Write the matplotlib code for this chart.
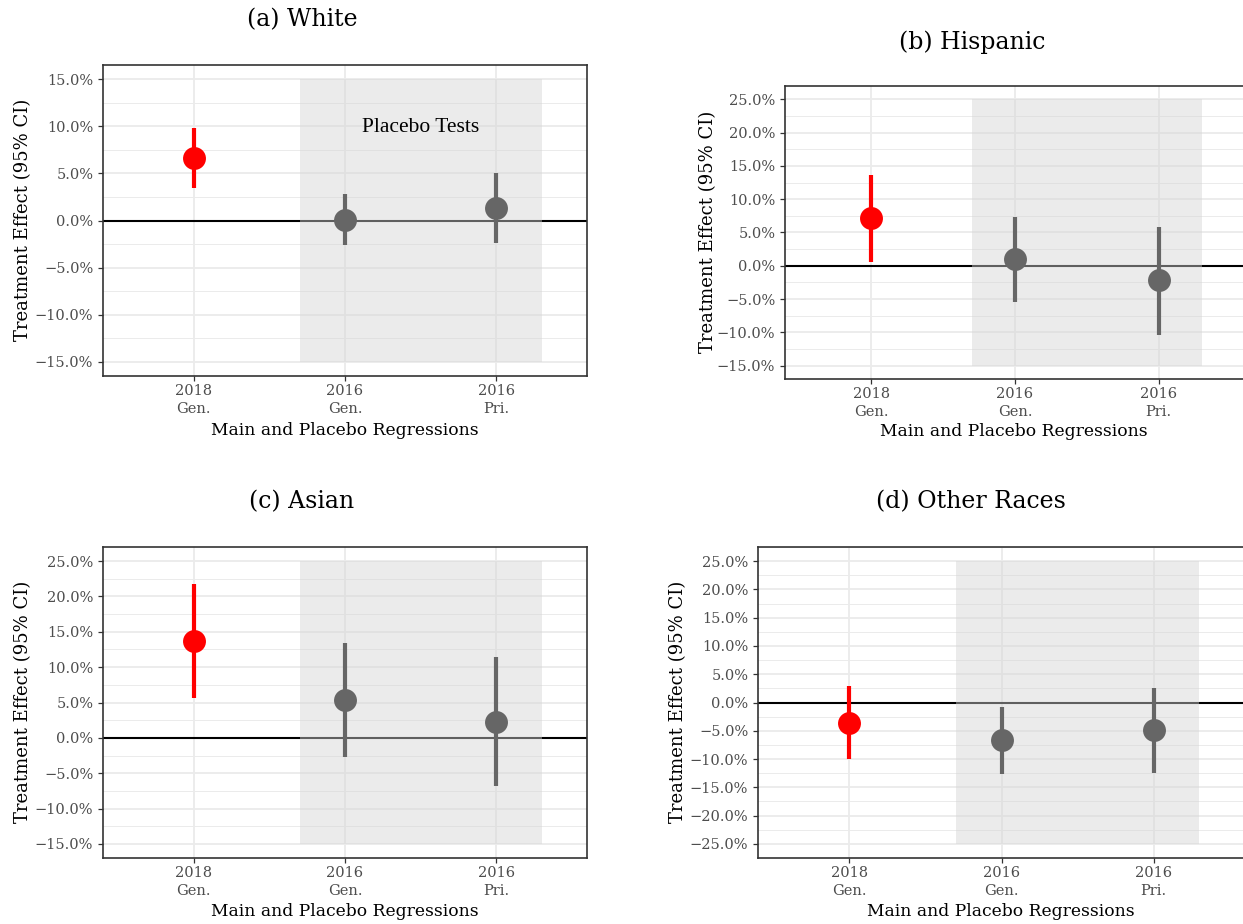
import matplotlib
matplotlib.use("Agg")
import matplotlib.pyplot as plt
import matplotlib.ticker as mticker
from matplotlib.patches import Rectangle

W, H = 1243, 924
fig = plt.figure(figsize=(W / 100, H / 100), dpi=100)

categories = ["2018\nGen.", "2016\nGen.", "2016\nPri."]
point_colors = ["#FF0000", "#666666", "#666666"]

# Estimates and 95% CI bounds (fractions)
white_est = [0.066, 0.001, 0.013]
white_lo = [0.035, -0.026, -0.024]
white_hi = [0.098, 0.028, 0.050]

hisp_est = [0.072, 0.010, -0.022]
hisp_lo = [0.005, -0.055, -0.104]
hisp_hi = [0.137, 0.074, 0.059]

asian_est = [0.137, 0.054, 0.023]
asian_lo = [0.057, -0.027, -0.068]
asian_hi = [0.217, 0.134, 0.114]

other_est = [-0.036, -0.067, -0.049]
other_lo = [-0.100, -0.127, -0.124]
other_hi = [0.029, -0.008, 0.026]

titles = ["(a) White", "(b) Hispanic", "(c) Asian", "(d) Other Races"]
y_ranges = [(-0.15, 0.15), (-0.15, 0.25), (-0.15, 0.25), (-0.25, 0.25)]

SERIF_T = ["Liberation Serif", "DejaVu Serif"]
WIDE = ["DejaVu Serif"]

# axes pixel boxes: left, right, top, bottom
boxes = [
    (103, 587, 65, 376),
    (785, 1245, 86, 379),
    (103, 587, 547, 858),
    (758, 1245, 547, 858),
]
title_pos = [(302, 20), (972, 42), (302, 502), (971, 502)]
ylabel_pos = [(23, 220), (708, 232), (23, 702), (678, 702)]
xlabel_pos = [(345, 430), (1014, 431), (345, 911), (1001, 911)]

data = [
    (white_est, white_lo, white_hi),
    (hisp_est, hisp_lo, hisp_hi),
    (asian_est, asian_lo, asian_hi),
    (other_est, other_lo, other_hi),
]


def fmt(v, pos=None):
    s = f"{abs(v) * 100:.1f}%"
    return ("\u2212" + s) if v < -1e-9 else s


for i in range(4):
    l, r, t, b = boxes[i]
    ax = fig.add_axes([l / W, 1 - b / H, (r - l) / W, (b - t) / H])
    est, lo, hi = data[i]
    ymin, ymax = y_ranges[i]
    pad = (ymax - ymin) * 0.05
    xs = [1, 2, 3]

    ax.set_xlim(0.4, 3.6)
    ax.set_ylim(ymin - pad, ymax + pad)

    ax.yaxis.set_major_locator(mticker.MultipleLocator(0.05))
    ax.yaxis.set_minor_locator(mticker.MultipleLocator(0.025))
    ax.yaxis.set_major_formatter(mticker.FuncFormatter(fmt))
    ax.set_xticks(xs)
    ax.set_xticklabels(categories)

    ax.grid(True, which="major", axis="both", color="#EBEBEB", lw=1.3, zorder=0)
    ax.grid(True, which="minor", axis="y", color="#EBEBEB", lw=0.7, zorder=0)
    ax.set_axisbelow(True)

    ax.axhline(0, color="black", lw=1.5, zorder=1)
    ax.add_patch(Rectangle((1.7, ymin), 1.6, ymax - ymin, facecolor="#D4D4D4",
                           alpha=0.45, edgecolor="none", zorder=2))

    for x, e, lw_, hw_, c in zip(xs, est, lo, hi, point_colors):
        ax.vlines(x, lw_, hw_, color=c, lw=3.0, zorder=3)
        ax.plot(x, e, "o", color=c, ms=16.5, mec="none", zorder=4)

    if i == 0:
        ax.text(2.5, 0.099, "Placebo Tests", ha="center", va="center",
                fontsize=15.5, family=SERIF_T, color="black", zorder=5)

    for sp in ax.spines.values():
        sp.set_color("#333333")
        sp.set_linewidth(1.2)

    ax.tick_params(axis="both", which="major", length=3.5, width=0.9,
                   color="#333333", labelcolor="#4D4D4D", labelsize=10.5)
    ax.tick_params(axis="x", which="major", pad=2.0)
    ax.tick_params(axis="y", which="minor", length=0)
    for lab in ax.get_yticklabels() + ax.get_xticklabels():
        lab.set_family(WIDE)
    for lab in ax.get_xticklabels():
        lab.set_linespacing(1.4)

    yx, yy = ylabel_pos[i]
    fig.text(yx / W, 1 - yy / H, "Treatment Effect (95% CI)", rotation=90,
             ha="center", va="center", fontsize=13, family=WIDE, color="black")
    xx, xy = xlabel_pos[i]
    fig.text(xx / W, 1 - xy / H, "Main and Placebo Regressions",
             ha="center", va="center", fontsize=12.3, family=WIDE, color="black")

    tx, ty = title_pos[i]
    fig.text(tx / W, 1 - ty / H, titles[i], ha="center", va="center",
             fontsize=17, family=WIDE, color="black")

fig.savefig("out.png", dpi=100)
